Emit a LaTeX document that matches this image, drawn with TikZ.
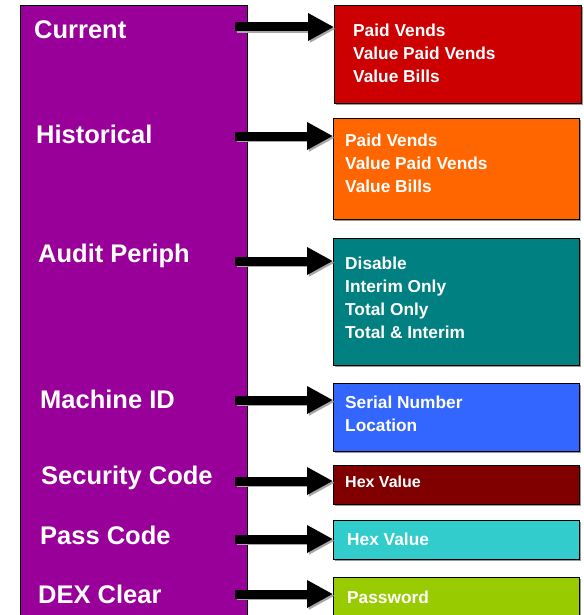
\documentclass[tikz,border=0pt]{standalone}
\usepackage{fontspec}
\setmainfont{Liberation Sans}
\usetikzlibrary{arrows.meta,shadows}

\definecolor{menupurple}{HTML}{990099}
\definecolor{curred}{HTML}{CC0000}
\definecolor{historange}{HTML}{FF6600}
\definecolor{auditteal}{HTML}{008080}
\definecolor{idblue}{HTML}{3366FF}
\definecolor{secmaroon}{HTML}{800000}
\definecolor{passcyan}{HTML}{33CCCC}
\definecolor{dexlime}{HTML}{99CC00}

\begin{document}
\begin{tikzpicture}[x=1pt, y=-1pt]
        % page frame
        \useasboundingbox (0,0) rectangle (583,615);

        % styles
        \tikzstyle{menulbl} = [anchor=west, inner sep=0pt, text=white, font=\fontsize{25.5}{28}\selectfont\bfseries]
        \tikzstyle{optbox} = [rectangle, draw=black, line width=0.8pt, anchor=north west, inner sep=0pt,
                              drop shadow={shadow xshift=1.5pt, shadow yshift=-1.5pt, fill=gray!80, opacity=1}]
        \tikzstyle{opttxt} = [anchor=north west, inner sep=0pt, align=left, text=white,
                              font=\fontsize{17.3}{23}\selectfont\bfseries]
        \tikzstyle{fatarrow} = [line width=9pt, black, -{Triangle[length=26pt, width=26pt]}]
        \tikzstyle{fatshadow} = [line width=9pt, gray!70, -{Triangle[length=26pt, width=26pt]},
                                 transform canvas={xshift=1.8pt, yshift=-1.8pt}]

        % 1. purple menu column
        \node[rectangle, draw=black, line width=0.8pt, fill=menupurple, anchor=north west,
              minimum width=227pt, minimum height=620pt, inner sep=0pt] (menu) at (20,5) {};

        \node[menulbl] (lcur)  at (34,30)  {Current};
        \node[menulbl] (lhist) at (36,134) {Historical};
        \node[menulbl] (laud)  at (38,256) {Audit Periph};
        \node[menulbl] (lmid)  at (40,399) {Machine ID};
        \node[menulbl] (lsec)  at (41,478) {Security Code};
        \node[menulbl] (lpass) at (40,535) {Pass Code};
        \node[menulbl] (ldex)  at (38,594) {DEX Clear};

        % 2. option boxes on the right
        \node[optbox, fill=curred,     minimum width=247pt, minimum height=98pt]  (bcur)  at (334,5)   {};
        \node[optbox, fill=historange, minimum width=246pt, minimum height=101pt] (bhist) at (333,118) {};
        \node[optbox, fill=auditteal,  minimum width=246pt, minimum height=127pt] (baud)  at (333,238) {};
        \node[optbox, fill=idblue,     minimum width=246pt, minimum height=68pt]  (bmid)  at (333,383) {};
        \node[optbox, fill=secmaroon,  minimum width=246pt, minimum height=39pt]  (bsec)  at (333,465) {};
        \node[optbox, fill=passcyan,   minimum width=246pt, minimum height=39pt]  (bpass) at (333,520) {};
        \node[optbox, fill=dexlime,    minimum width=246pt, minimum height=50pt]  (bdex)  at (333,577) {};

        % texts in the boxes
        \node[opttxt] (tcur)  at (353,23.5)  {Paid Vends\\Value Paid Vends\\Value Bills};
        \node[opttxt] (thist) at (345,133.5) {Paid Vends\\Value Paid Vends\\Value Bills};
        \node[opttxt] (taud)  at (345,256.5) {Disable\\Interim Only\\Total Only\\Total \& Interim};
        \node[opttxt] (tmid)  at (345,395.5) {Serial Number\\Location};
        \node[opttxt, font=\fontsize{16}{23}\selectfont\bfseries] (tsec) at (345,476) {Hex Value};
        \node[opttxt] (tpass) at (347,532.5) {Hex Value};
        \node[opttxt] (tdex)  at (347,590.5) {Password};

        % 3. arrows (start points inside the purple column)
        \coordinate (acur)  at (235,27);
        \coordinate (ahist) at (235,136);
        \coordinate (aaud)  at (235,261);
        \coordinate (amid)  at (235,400);
        \coordinate (asec)  at (235,481);
        \coordinate (apass) at (235,539);
        \coordinate (adex)  at (235,594);

        % shadows first
        \draw[fatshadow] (acur)  -- (acur  -| bcur.west);
        \draw[fatshadow] (ahist) -- (ahist -| bhist.west);
        \draw[fatshadow] (aaud)  -- (aaud  -| baud.west);
        \draw[fatshadow] (amid)  -- (amid  -| bmid.west);
        \draw[fatshadow] (asec)  -- (asec  -| bsec.west);
        \draw[fatshadow] (apass) -- (apass -| bpass.west);
        \draw[fatshadow] (adex)  -- (adex  -| bdex.west);

        \draw[fatarrow] (acur)  -- (acur  -| bcur.west);
        \draw[fatarrow] (ahist) -- (ahist -| bhist.west);
        \draw[fatarrow] (aaud)  -- (aaud  -| baud.west);
        \draw[fatarrow] (amid)  -- (amid  -| bmid.west);
        \draw[fatarrow] (asec)  -- (asec  -| bsec.west);
        \draw[fatarrow] (apass) -- (apass -| bpass.west);
        \draw[fatarrow] (adex)  -- (adex  -| bdex.west);
\end{tikzpicture}
\end{document}
